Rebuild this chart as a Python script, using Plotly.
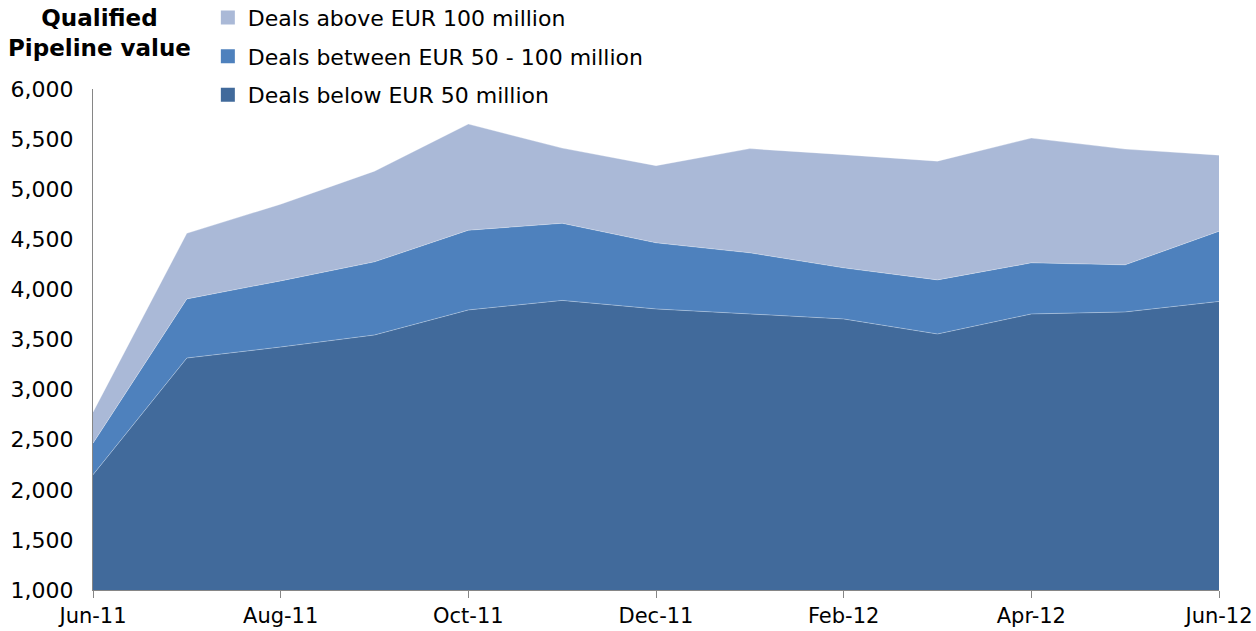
import plotly.graph_objects as go

months = ["Jun-11", "Jul-11", "Aug-11", "Sep-11", "Oct-11", "Nov-11", "Dec-11",
          "Jan-12", "Feb-12", "Mar-12", "Apr-12", "May-12", "Jun-12"]
below_50 = [2150, 3315, 3425, 3545, 3795, 3890, 3805, 3755, 3705, 3555, 3755, 3775, 3880]
between_50_100 = [315, 590, 660, 730, 795, 770, 660, 610, 510, 540, 510, 470, 700]
above_100 = [310, 655, 765, 905, 1060, 750, 770, 1040, 1130, 1185, 1245, 1155, 760]
tick_labels = ["Jun-11", "Aug-11", "Oct-11", "Dec-11", "Feb-12", "Apr-12", "Jun-12"]

font = "Verdana, DejaVu Sans, sans-serif"

fig = go.Figure()
series = [
    ("Deals below EUR 50 million", below_50, "#416A9B", 3),
    ("Deals between EUR 50 - 100 million", between_50_100, "#4E81BD", 2),
    ("Deals above EUR 100 million", above_100, "#AAB9D7", 1),
]
for name, vals, col, rank in series:
    fig.add_trace(go.Scatter(
        x=months, y=vals, name=name, stackgroup="one", mode="lines",
        line=dict(width=0.6, color="rgba(255,255,255,0.5)"), fillcolor=col,
        showlegend=False, hoverinfo="x+y+name",
    ))
for name, vals, col, rank in series:
    fig.add_trace(go.Scatter(
        x=[None], y=[None], name=name, mode="markers",
        marker=dict(symbol="square", size=14, color=col),
        legendgroup=name, legendrank=rank, showlegend=True,
    ))

fig.update_layout(
    width=1256, height=631,
    margin=dict(l=93, r=37, t=89, b=41, autoexpand=False),
    paper_bgcolor="white", plot_bgcolor="white",
    font=dict(family=font, size=22, color="black"),
    showlegend=True,
    legend=dict(
        x=0.102, y=1.184, xanchor="left", yanchor="top",
        tracegroupgap=7,
        font=dict(family=font, size=22, color="black"),
        itemwidth=30, bgcolor="rgba(0,0,0,0)",
    ),
    xaxis=dict(
        type="category", range=[0, 12],
        tickmode="array", tickvals=tick_labels, ticktext=tick_labels,
        showline=True, linecolor="#868686", linewidth=1,
        ticks="outside", ticklen=7, tickcolor="#868686",
        showgrid=False, zeroline=False,
        tickfont=dict(family=font, size=21),
    ),
    yaxis=dict(
        range=[1000, 6000], dtick=500, tickformat=",d",
        showline=True, linecolor="#868686", linewidth=1,
        ticks="", showgrid=False, zeroline=False,
        ticklabelstandoff=14,
        tickfont=dict(family=font, size=22),
    ),
)

fig.add_annotation(
    text="<b>Qualified<br>Pipeline value</b>",
    xref="paper", yref="paper", x=0.006, y=1.172, xanchor="center", yanchor="top",
    showarrow=False, align="center",
    font=dict(family=font, size=23, color="black"),
)

fig.write_html("out.html")
